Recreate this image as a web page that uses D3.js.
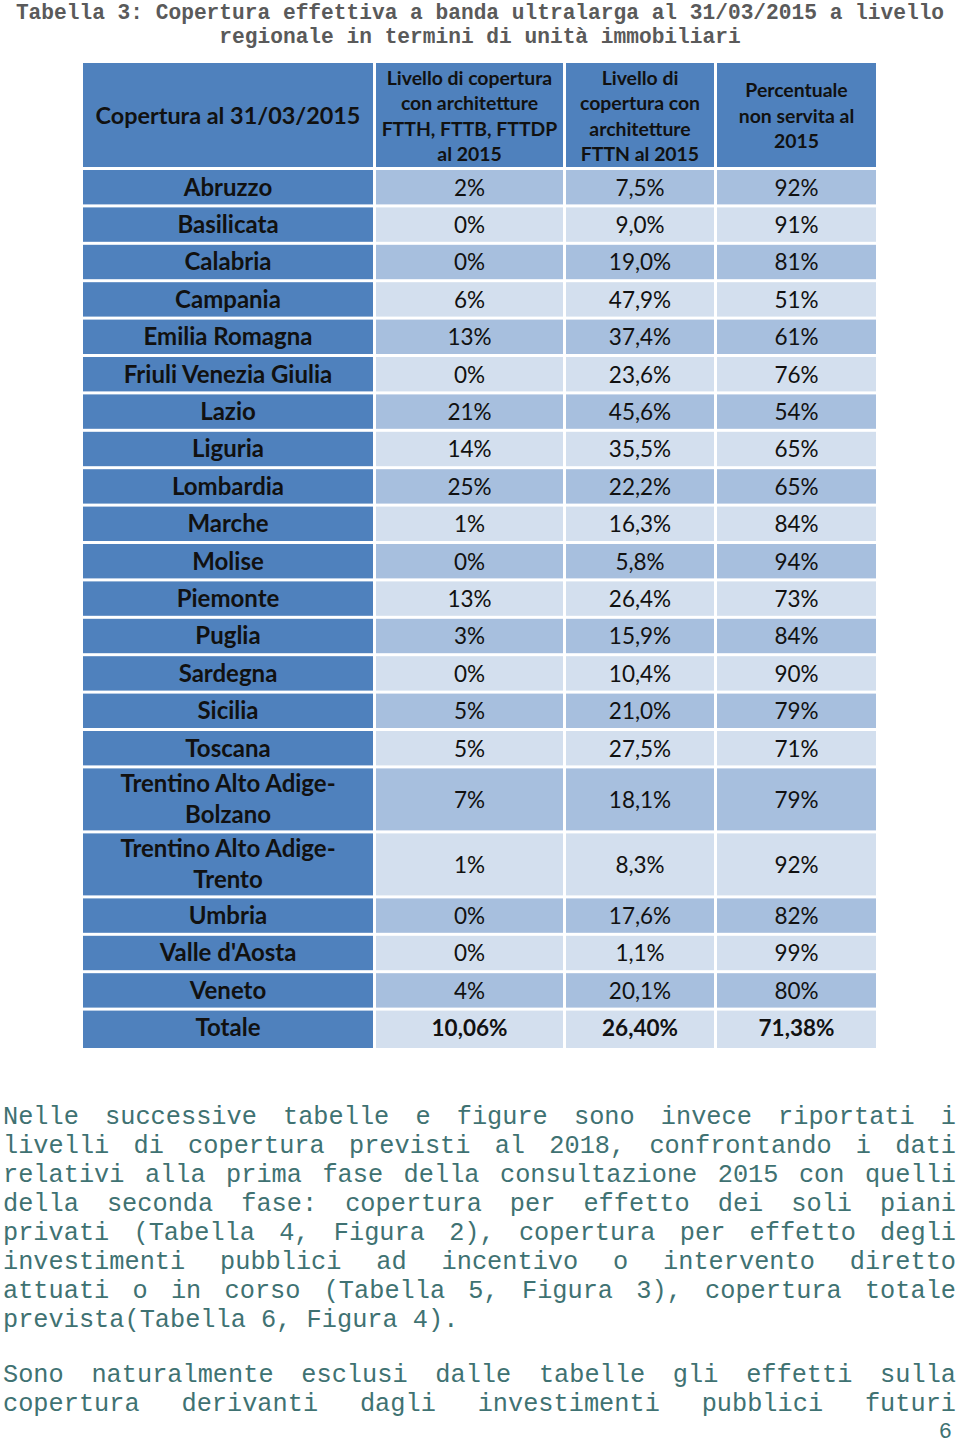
<!DOCTYPE html>
<html>
<head>
<meta charset="utf-8">
<script src="https://cdn.jsdelivr.net/npm/d3@7"></script>
<style>
  body { margin: 0; background: #fff; }
  svg { display: block; }
</style>
</head>
<body>
<svg id="page" width="960" height="1447"></svg>
<script>
// region names (multi-line labels split with "|")
var regions = ["Abruzzo", "Basilicata", "Calabria", "Campania", "Emilia Romagna", "Friuli Venezia Giulia",
    "Lazio", "Liguria", "Lombardia", "Marche", "Molise", "Piemonte", "Puglia", "Sardegna", "Sicilia",
    "Toscana", "Trentino Alto Adige-|Bolzano", "Trentino Alto Adige-|Trento", "Umbria", "Valle d'Aosta",
    "Veneto", "Totale"];
// FTTH, FTTB, FTTDP coverage 2015 (%)
var ftth = [2, 0, 0, 6, 13, 0, 21, 14, 25, 1, 0, 13, 3, 0, 5, 5, 7, 1, 0, 0, 4, 10.06];
// FTTN coverage 2015 (%)
var fttn = [7.5, 9.0, 19.0, 47.9, 37.4, 23.6, 45.6, 35.5, 22.2, 16.3, 5.8, 26.4, 15.9, 10.4, 21.0,
    27.5, 18.1, 8.3, 17.6, 1.1, 20.1, 26.40];
// share not served 2015 (%)
var nonServita = [92, 91, 81, 51, 61, 76, 54, 65, 65, 84, 94, 73, 84, 90, 79, 71, 79, 92, 82, 99, 80, 71.38];

var headers = ["Copertura al 31/03/2015",
    "Livello di copertura|con architetture|FTTH, FTTB, FTTDP|al 2015",
    "Livello di|copertura con|architetture|FTTN al 2015",
    "Percentuale|non servita al|2015"];

var titleLines = ["Tabella 3: Copertura effettiva a banda ultralarga al 31/03/2015 a livello",
    "regionale in termini di unità immobiliari"];

var para1 = ["Nelle successive tabelle e figure sono invece riportati i",
    "livelli di copertura previsti al 2018, confrontando i dati",
    "relativi alla prima fase della consultazione 2015 con quelli",
    "della seconda fase: copertura per effetto dei soli piani",
    "privati (Tabella 4, Figura 2), copertura per effetto degli",
    "investimenti pubblici ad incentivo o intervento diretto",
    "attuati o in corso (Tabella 5, Figura 3), copertura totale",
    "prevista(Tabella 6, Figura 4)."];
var para2 = ["Sono naturalmente esclusi dalle tabelle gli effetti sulla",
    "copertura derivanti dagli investimenti pubblici futuri"];

var svg = d3.select("#page");

var itFmt = function (dec) {
    return function (v) { return v.toFixed(dec).replace(".", ",") + "%"; };
};
var last = regions.length - 1;

// ---- title ----
svg.selectAll("text.title")
    .data(titleLines)
    .enter().append("text")
    .attr("class", "title")
    .attr("x", 480)
    .attr("y", function (d, i) { return 19 + i * 24; })
    .attr("text-anchor", "middle")
    .style("font-family", "'Liberation Mono', 'DejaVu Sans Mono', monospace")
    .style("font-size", "21.2px")
    .style("font-weight", "bold")
    .style("fill", "#5a5a5a")
    .text(function (d) { return d; });

// ---- table ----
var tableLeft = 83, tableRight = 876, gap = 3;
var x = d3.scaleLinear().domain([0, 1]).range([tableLeft, tableRight]);
var colEdges = [0, 293 / 793, 483 / 793, 634 / 793, 1];

var headTop = 63, headH = 104;
var rowH1 = 37.4, rowH2 = 65;
var rows = regions.map(function (r, i) {
    return {
        label: r.split("|"),
        vals: [
            i === last ? itFmt(2)(ftth[i]) : itFmt(0)(ftth[i]),
            i === last ? itFmt(2)(fttn[i]) : itFmt(1)(fttn[i]),
            i === last ? itFmt(2)(nonServita[i]) : itFmt(0)(nonServita[i])
        ],
        h: r.indexOf("|") >= 0 ? rowH2 : rowH1,
        idx: i
    };
});
var cum = headTop + headH + gap;
rows.forEach(function (r) { r.y0 = cum; cum += r.h; });

var cellFont = "Lato, 'Open Sans', sans-serif";

// header
var head = svg.append("g");
headers.forEach(function (h, c) {
    var x0 = x(colEdges[c]), x1 = x(colEdges[c + 1]) - (c < 3 ? gap : 0);
    head.append("rect")
        .attr("x", x0).attr("y", headTop)
        .attr("width", x1 - x0).attr("height", headH)
        .style("fill", "#4f81bd");
    var lines = h.split("|");
    var lh = 25.5, fs = c === 0 ? 23.4 : 19.4;
    var cy = headTop + headH / 2 + 1;
    head.selectAll(null)
        .data(lines)
        .enter().append("text")
        .attr("x", (x0 + x1) / 2)
        .attr("y", function (d, i) { return cy + (i - (lines.length - 1) / 2) * lh + fs * 0.36; })
        .attr("text-anchor", "middle")
        .style("font-family", cellFont)
        .style("font-weight", "bold")
        .style("font-size", fs + "px")
        .style("fill", "#111")
        .text(function (d) { return d; });
});

// body rows
var rowG = svg.selectAll("g.row")
    .data(rows)
    .enter().append("g")
    .attr("class", "row")
    .attr("transform", function (d) { return "translate(0," + d.y0 + ")"; });

[0, 1, 2, 3].forEach(function (c) {
    var x0 = x(colEdges[c]), x1 = x(colEdges[c + 1]) - (c < 3 ? gap : 0);
    rowG.append("rect")
        .attr("x", x0).attr("y", 0)
        .attr("width", x1 - x0)
        .attr("height", function (d) { return d.h - (d.idx === last ? 0 : gap); })
        .style("fill", function (d) {
            if (c === 0) return "#4f81bd";
            return d.idx % 2 === 0 ? "#a7bfde" : "#d3dfee";
        });
    rowG.each(function (d) {
        var lines = c === 0 ? d.label : [d.vals[c - 1]];
        var cy = (d.h - gap) / 2;
        d3.select(this).selectAll(null)
            .data(lines)
            .enter().append("text")
            .attr("x", (x0 + x1) / 2)
            .attr("y", function (t, i) { return cy + (i - (lines.length - 1) / 2) * 31 + 8.5; })
            .attr("text-anchor", "middle")
            .style("font-family", cellFont)
            .style("font-weight", (c === 0 || d.idx === last) ? "bold" : "normal")
            .style("font-size", c === 0 ? "24px" : "22.5px")
            .style("fill", "#111")
            .text(function (t) { return t; });
    });
});

// ---- body text (justified monospace) ----
var textLeft = 3, textRight = 956, fsz = 25.3, charW = fsz * 0.6;

function drawPara(lines, y0, justifyLast) {
    lines.forEach(function (line, i) {
        var words = line.split(" ");
        var y = y0 + i * 29;
        var justify = justifyLast || i < lines.length - 1;
        var used = d3.sum(words, function (w) { return w.length * charW; });
        var space = justify && words.length > 1 ? (textRight - textLeft - used) / (words.length - 1) : charW;
        var cx = textLeft;
        words.forEach(function (w) {
            svg.append("text")
                .attr("x", cx).attr("y", y)
                .style("font-family", "'Liberation Mono', 'DejaVu Sans Mono', monospace")
                .style("font-size", fsz + "px")
                .style("fill", "#3f7272")
                .text(w);
            cx += w.length * charW + space;
        });
    });
}
drawPara(para1, 1124, false);
drawPara(para2, 1382, true);

svg.append("text")
    .attr("x", 952).attr("y", 1438)
    .attr("text-anchor", "end")
    .style("font-family", "'Liberation Mono', 'DejaVu Sans Mono', monospace")
    .style("font-size", "22px")
    .style("fill", "#3f7272")
    .text("6");
</script>
</body>
</html>
